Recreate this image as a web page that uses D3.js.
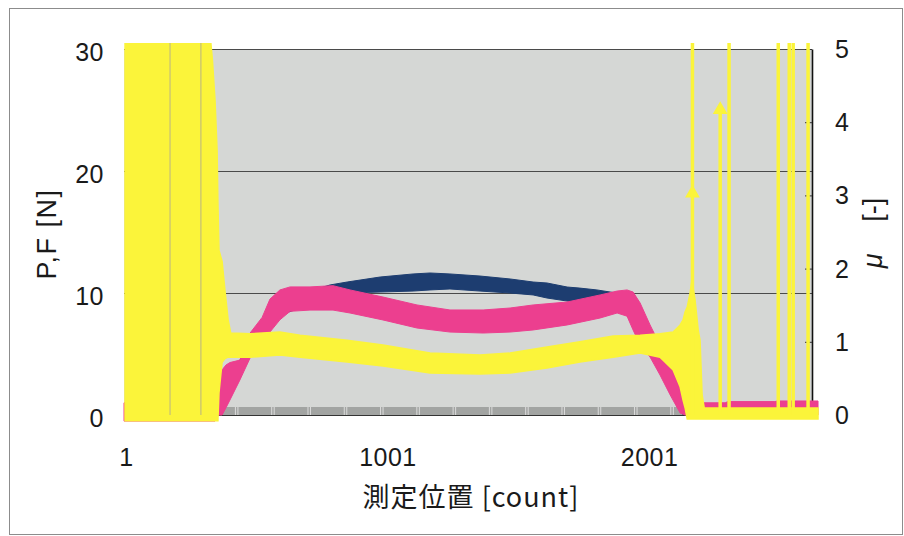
<!DOCTYPE html>
<html>
<head>
<meta charset="utf-8">
<script src="https://cdn.jsdelivr.net/npm/d3@7"></script>
<style>
  body { margin: 0; background: #fff; }
  svg { display: block; }
  text { font-family: "Liberation Sans", Arial, sans-serif; fill: #1a1a1a; }
</style>
</head>
<body>
<svg id="chart" width="904" height="536"></svg>
<script>
// measured position [count] -> load P (navy), friction F (pink) in N, mu (yellow) on right axis
// each series is a noisy band, kept as its lower / upper envelope
const pCount = [350, 400, 470, 560, 740, 780, 845, 971, 1097, 1162, 1238, 1353, 1468, 1556, 1609, 1686, 1735, 1800, 1850, 1900, 1938, 2003, 2091, 2130];
const pHi    = [1.5, 3.5, 5.5, 9.2, 10.4, 10.66, 10.9, 11.31, 11.56, 11.64, 11.56, 11.39, 11.15, 10.9, 10.82, 10.49, 10.4, 10.25, 10.08, 9.92, 9.6, 6.5, 3.0, 0.8];
const pLo    = [0, 1.5, 5.2, 8.0, 9.3, 9.6, 10.0, 10.08, 10.16, 10.25, 10.33, 10.16, 10.0, 9.84, 9.59, 9.34, 9.18, 9.0, 8.8, 8.6, 7.5, 5.0, 1.8, 0];

const fCount = [-8, 340, 351, 367, 382, 397, 435, 474, 520, 550, 588, 627, 703, 791, 856, 982, 1112, 1238, 1365, 1468, 1556, 1686, 1812, 1877, 1915, 1938, 1965, 2003, 2041, 2080, 2118, 2137, 2175, 2290, 2300, 2480, 2490, 2645];
const fHi    = [1.0, 1.0, 2.6, 3.7, 4.1, 4.3, 4.5, 6.72, 8.0, 9.5, 10.25, 10.5, 10.5, 10.6, 10.25, 9.67, 9.02, 8.61, 8.61, 8.77, 9.02, 9.26, 9.84, 10.16, 10.25, 10.08, 9.18, 7.38, 5.74, 4.1, 2.46, 1.23, 1.0, 1.0, 1.1, 1.1, 1.15, 1.15];
const fLo    = [-0.5, -0.5, 0, 0, 0.6, 1.23, 2.87, 4.67, 6.1, 6.8, 7.8, 8.5, 8.6, 8.6, 8.36, 7.79, 7.13, 6.8, 6.72, 6.8, 6.97, 7.38, 7.95, 8.36, 8.1, 6.97, 5.74, 4.75, 3.28, 1.64, 0.16, 0, 0, 0, 0, 0, 0, 0];

const muCount = [-4, 321, 330, 340, 348, 351, 355, 367, 378, 390, 400, 474, 588, 665, 845, 982, 1162, 1353, 1468, 1609, 1735, 1862, 1965, 2041, 2091, 2118, 2129, 2137, 2145, 2156, 2163, 2175, 2187, 2194, 2202, 2210, 2645];
const muHi    = [5.2, 5.2, 4.85, 4.3, 3.6, 2.9, 2.25, 2.1, 1.7, 1.3, 1.12, 1.11, 1.134, 1.09, 1.02, 0.956, 0.847, 0.82, 0.847, 0.93, 1.0, 1.08, 1.09, 1.11, 1.134, 1.23, 1.30, 1.41, 1.475, 1.667, 1.844, 1.57, 1.16, 1.02, 0.27, 0.096, 0.096];
const muLo    = [-0.08, -0.08, -0.08, -0.08, -0.08, -0.08, 0.3, 0.72, 0.77, 0.79, 0.79, 0.79, 0.82, 0.79, 0.724, 0.67, 0.574, 0.56, 0.574, 0.642, 0.724, 0.79, 0.847, 0.79, 0.615, 0.383, 0.205, 0.096, -0.055, -0.055, -0.055, -0.055, -0.055, -0.055, -0.055, -0.055, -0.055];

// single-sample mu spikes on the right, and the two visible markers
const spikeCount = [2165, 2271, 2305, 2493, 2535, 2550, 2607];
const spikePeak  = [5.3, 4.17, 5.3, 5.3, 5.3, 5.3, 5.3];
const markerCount = [2165, 2271];
const markerMu    = [3.03, 4.17];
// thin gaps inside the saturated yellow block
const gapCount = [168, 286];

const leftTicks = ["0", "10", "20", "30"];
const rightTicks = ["0", "1", "2", "3", "4", "5"];
const xTicks = ["1", "1001", "2001"];

const margin = {top: 49, right: 92, bottom: 121, left: 124};
const width = 904, height = 536;
const innerWidth = width - margin.left - margin.right;
const innerHeight = height - margin.top - margin.bottom;

const svg = d3.select("#chart");

const xScale = d3.scaleLinear().domain([-8, 2622]).range([0, innerWidth]);
const yScale = d3.scaleLinear().domain([0, 30]).range([innerHeight, 0]);
const muScale = d3.scaleLinear().domain([0, 5]).range([innerHeight, 0]);

// outer frame
svg.append("rect")
    .attr("x", 9.5).attr("y", 8.5)
    .attr("width", 893).attr("height", 526)
    .attr("fill", "none").attr("stroke", "#8c8c8c").attr("stroke-width", 1);

const g = svg.append("g").attr("transform", "translate(" + margin.left + "," + margin.top + ")");

g.append("rect")
    .attr("width", innerWidth).attr("height", innerHeight)
    .attr("fill", "#d5d7d5");

// gridlines
g.append("g")
    .call(d3.axisLeft(yScale).tickValues([10, 20, 30]).tickSize(-innerWidth).tickFormat(""))
    .call(s => s.select(".domain").remove())
    .call(s => s.selectAll("text").remove())
    .call(s => s.selectAll("line").attr("stroke", "#4a4a4a").attr("stroke-width", 1));

// dense category ticks along the bottom (shows as a grey strip)
g.append("rect")
    .attr("x", 0).attr("y", innerHeight - 8)
    .attr("width", innerWidth).attr("height", 8)
    .attr("fill", "#a2a4a2");
g.append("g")
    .attr("transform", "translate(0," + innerHeight + ")")
    .call(d3.axisTop(xScale).tickValues(d3.range(416, 2200, 138.7)).tickSize(8).tickFormat(""))
    .call(s => s.select(".domain").remove())
    .call(s => s.selectAll("text").remove())
    .call(s => s.selectAll("line").clone().attr("transform", "translate(2.5,0)"))
    .call(s => s.selectAll("line").attr("stroke", "#dcdcdc").attr("stroke-width", 1));
g.append("line")
    .attr("x1", 0).attr("x2", innerWidth)
    .attr("y1", innerHeight + 0.5).attr("y2", innerHeight + 0.5)
    .attr("stroke", "#333").attr("stroke-width", 1.2);

// right axis line and inward ticks
g.append("g")
    .attr("transform", "translate(" + innerWidth + ",0)")
    .call(d3.axisRight(muScale).tickValues(rightTicks.map(Number)).tickSizeInner(-7).tickSizeOuter(0).tickFormat(""))
    .call(s => s.selectAll("text").remove())
    .call(s => s.select(".domain").attr("stroke", "#111").attr("stroke-width", 1.6))
    .call(s => s.selectAll("line").attr("stroke", "#333"));

svg.append("clipPath").attr("id", "plotClip")
    .append("rect")
    .attr("x", -4).attr("y", -6)
    .attr("width", innerWidth + 11).attr("height", innerHeight + 14);

const data = g.append("g").attr("clip-path", "url(#plotClip)");

function band(counts, lo, hi, scale) {
    return d3.area()
        .x((d, i) => xScale(counts[i]))
        .y0((d, i) => scale(lo[i]))
        .y1((d, i) => scale(hi[i]))(counts);
}

data.append("path")
    .attr("d", band(pCount, pLo, pHi, yScale))
    .attr("fill", "#1d3d70").attr("stroke", "#1d3d70").attr("stroke-width", 1);

data.append("path")
    .attr("d", band(fCount, fLo, fHi, yScale))
    .attr("fill", "#ec3f8f").attr("stroke", "#ec3f8f").attr("stroke-width", 1);

const yellow = "#fbf43a";

data.append("path")
    .attr("d", band(muCount, muLo, muHi, muScale))
    .attr("fill", yellow).attr("stroke", yellow).attr("stroke-width", 1.5);

data.selectAll(".gap")
    .data(gapCount)
    .enter().append("line")
    .attr("class", "gap")
    .attr("x1", d => xScale(d)).attr("x2", d => xScale(d))
    .attr("y1", muScale(5.2)).attr("y2", muScale(0))
    .attr("stroke", "#b9b486").attr("stroke-width", 1);

data.selectAll(".spike")
    .data(spikeCount)
    .enter().append("line")
    .attr("class", "spike")
    .attr("x1", d => xScale(d)).attr("x2", d => xScale(d))
    .attr("y1", muScale(0)).attr("y2", (d, i) => muScale(spikePeak[i]))
    .attr("stroke", yellow).attr("stroke-width", 3.5);

data.selectAll(".marker")
    .data(markerCount)
    .enter().append("path")
    .attr("class", "marker")
    .attr("transform", (d, i) => "translate(" + xScale(d) + "," + muScale(markerMu[i]) + ")")
    .attr("d", d3.symbol(d3.symbolTriangle, 95))
    .attr("fill", yellow);

// tick labels, placed from the scales
const labels = svg.append("g")
    .style("font-family", "'Liberation Sans', Arial, sans-serif")
    .attr("font-size", 25)
    .attr("letter-spacing", 0.5);

labels.selectAll(".ylab")
    .data(leftTicks)
    .enter().append("text")
    .attr("class", "ylab")
    .attr("x", margin.left - 20)
    .attr("y", d => margin.top + yScale(+d) + 12)
    .attr("text-anchor", "end")
    .text(d => d);

labels.selectAll(".mulab")
    .data(rightTicks)
    .enter().append("text")
    .attr("class", "mulab")
    .attr("x", margin.left + innerWidth + 23)
    .attr("y", d => margin.top + muScale(+d) + 9)
    .text(d => d);

labels.selectAll(".xlab")
    .data(xTicks)
    .enter().append("text")
    .attr("class", "xlab")
    .attr("x", d => margin.left + xScale(+d))
    .attr("y", margin.top + innerHeight + 51)
    .attr("text-anchor", "middle")
    .text(d => d);

// axis titles
svg.append("text")
    .attr("transform", "translate(56,234) rotate(-90)")
    .attr("text-anchor", "middle")
    .attr("font-size", 27)
    .attr("letter-spacing", 1.5)
    .text("P,F [N]");

const muTitle = svg.append("text")
    .attr("transform", "translate(882,233) rotate(-90)")
    .attr("text-anchor", "middle")
    .attr("font-size", 27)
    .attr("word-spacing", 24);
muTitle.append("tspan").attr("font-style", "italic").text("μ");
muTitle.append("tspan").text(" [-]");

svg.append("text")
    .attr("x", 471).attr("y", 507)
    .attr("text-anchor", "middle")
    .attr("font-size", 27)
    .attr("letter-spacing", 1)
    .style("font-family", "'Noto Sans CJK JP', 'Liberation Sans', sans-serif")
    .text("測定位置 [count]");
</script>
</body>
</html>
